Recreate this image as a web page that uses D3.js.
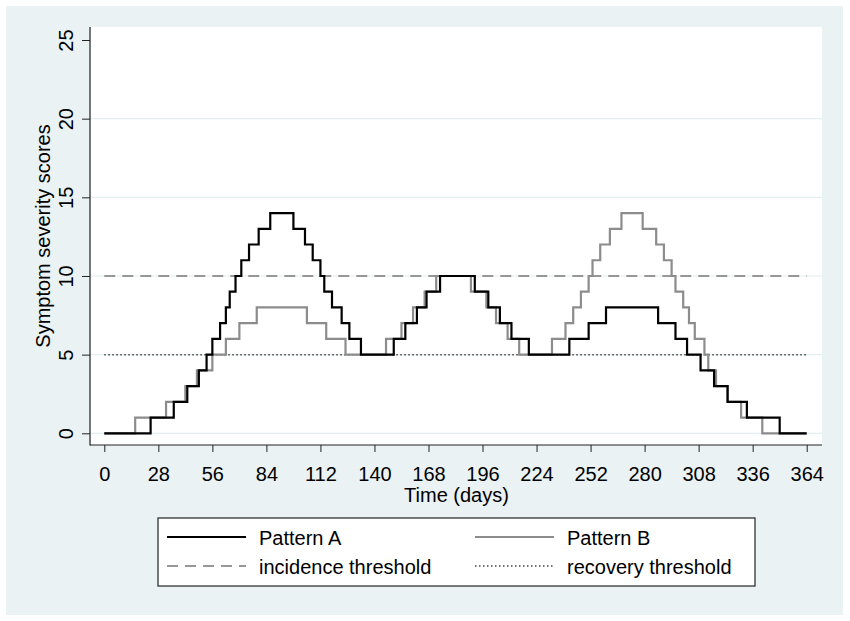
<!DOCTYPE html>
<html>
<head>
<meta charset="utf-8">
<script src="https://cdn.jsdelivr.net/npm/d3@7"></script>
<style>
  body { margin: 0; background: #fff; }
  svg { display: block; font-family: "Liberation Sans", Arial, sans-serif; }
</style>
</head>
<body>
<svg id="chart" width="850" height="621"></svg>
<script>
// Pattern A: day on which the score changes, and the new score
const daysA  = [0, 24, 36, 43, 49, 53, 56, 60, 63, 65, 68, 71, 75, 80, 86, 98, 104, 108, 112, 114, 118, 123, 127, 133,
                150, 156, 162, 167, 174, 192, 199, 205, 211, 220, 241, 251, 260, 287, 296, 302, 309, 316, 323, 333, 350, 364];
const scoreA = [0, 1, 2, 3, 4, 5, 6, 7, 8, 9, 10, 11, 12, 13, 14, 13, 12, 11, 10, 9, 8, 7, 6, 5,
                6, 7, 8, 9, 10, 9, 8, 7, 6, 5, 6, 7, 8, 7, 6, 5, 4, 3, 2, 1, 0, 0];
// Pattern B
const daysB  = [0, 16, 32, 42, 48, 56, 63, 70, 79, 105, 115, 125, 146, 154, 160, 166, 172, 190, 198, 203, 209, 215,
                232, 239, 243, 247, 251, 253, 257, 262, 268, 279, 286, 290, 294, 296, 300, 303, 306, 311, 313, 317, 323, 330, 341, 364];
const scoreB = [0, 1, 2, 3, 4, 5, 6, 7, 8, 7, 6, 5, 6, 7, 8, 9, 10, 9, 8, 7, 6, 5,
                6, 7, 8, 9, 10, 11, 12, 13, 14, 13, 12, 11, 10, 9, 8, 7, 6, 5, 4, 3, 2, 1, 0, 0];

const incidence = 10;
const recovery = 5;
const xTicks = [0, 28, 56, 84, 112, 140, 168, 196, 224, 252, 280, 308, 336, 364];
const yTicks = [0, 5, 10, 15, 20, 25];
const legendItems = ["Pattern A", "Pattern B", "incidence threshold", "recovery threshold"];

const svg = d3.select("#chart");

// фон как у Stata
svg.append("rect").attr("x", 6).attr("y", 6).attr("width", 837).attr("height", 609).attr("fill", "#eaf2f3");

const plot = { left: 91, right: 822, top: 27, bottom: 445 };
svg.append("rect")
    .attr("x", plot.left).attr("y", plot.top)
    .attr("width", plot.right - plot.left).attr("height", plot.bottom - plot.top)
    .attr("fill", "#fff");

const x = d3.scaleLinear().domain([0, 364]).range([104.3, 806.7]);
const y = d3.scaleLinear().domain([0, 25]).range([433.3, 40]);

// сетка (без линии на 25)
svg.append("g").selectAll("line")
    .data(yTicks.filter(d => d < 25))
    .enter().append("line")
    .attr("x1", plot.left).attr("x2", plot.right)
    .attr("y1", d => y(d)).attr("y2", d => y(d))
    .attr("stroke", "#e4edef").attr("stroke-width", 1.2);

// оси
const xAxis = svg.append("g")
    .attr("transform", "translate(0," + plot.bottom + ")")
    .call(d3.axisBottom(x).tickValues(xTicks).tickSize(7).tickSizeOuter(0));
xAxis.select(".domain").remove();
xAxis.selectAll("line").attr("stroke", "#222");
xAxis.selectAll("text").attr("y", 36).attr("dy", 0)
    .attr("font-size", 20).attr("fill", "#000")
    .attr("font-family", "Liberation Sans, Arial, sans-serif");

const yAxis = svg.append("g")
    .attr("transform", "translate(" + (plot.left - 1) + ",0)")
    .call(d3.axisLeft(y).tickValues(yTicks).tickSize(8).tickSizeOuter(0));
yAxis.select(".domain").remove();
yAxis.selectAll("line").attr("stroke", "#222");
yAxis.selectAll("text")
    .attr("x", 0).attr("y", 0).attr("dy", 0)
    .attr("text-anchor", "middle")
    .attr("transform", "translate(-17,0) rotate(-90)")
    .attr("font-size", 20).attr("fill", "#000")
    .attr("font-family", "Liberation Sans, Arial, sans-serif");

svg.append("line").attr("x1", plot.left - 1).attr("x2", plot.left - 1)
    .attr("y1", plot.top).attr("y2", plot.bottom + 0.5)
    .attr("stroke", "#222").attr("stroke-width", 1.2);
svg.append("line").attr("x1", plot.left - 1).attr("x2", plot.right)
    .attr("y1", plot.bottom).attr("y2", plot.bottom)
    .attr("stroke", "#222").attr("stroke-width", 1.2);

// подписи осей
svg.append("text")
    .attr("x", (plot.left + plot.right) / 2).attr("y", 502)
    .attr("text-anchor", "middle").attr("font-size", 20)
    .text("Time (days)");
svg.append("text")
    .attr("transform", "translate(50," + (plot.top + plot.bottom) / 2 + ") rotate(-90)")
    .attr("text-anchor", "middle").attr("font-size", 20)
    .text("Symptom severity scores");

// пороги
svg.append("line")
    .attr("x1", x(0)).attr("x2", x(364))
    .attr("y1", y(incidence)).attr("y2", y(incidence))
    .attr("stroke", "#979797").attr("stroke-width", 2)
    .attr("stroke-dasharray", "11,7");
svg.append("line")
    .attr("x1", x(0)).attr("x2", x(364))
    .attr("y1", y(recovery)).attr("y2", y(recovery))
    .attr("stroke", "#444").attr("stroke-width", 1.5)
    .attr("stroke-dasharray", "1.5,2.5");

// ступенчатые линии
const line = d3.line()
    .x(d => x(d[0]))
    .y(d => y(d[1]))
    .curve(d3.curveStepAfter);

const seriesB = daysB.map((d, i) => [d, scoreB[i]]);
const seriesA = daysA.map((d, i) => [d, scoreA[i]]);

svg.append("path").datum(seriesB)
    .attr("d", line).attr("fill", "none")
    .attr("stroke", "#8c8c8c").attr("stroke-width", 2.2);
svg.append("path").datum(seriesA)
    .attr("d", line).attr("fill", "none")
    .attr("stroke", "#000").attr("stroke-width", 2.2);

// легенда
const legend = svg.append("g");
legend.append("rect")
    .attr("x", 158).attr("y", 518).attr("width", 597).attr("height", 68)
    .attr("fill", "#fff").attr("stroke", "#222").attr("stroke-width", 1.2);

const legendStyle = [
    { col: 0, row: 0, stroke: "#000", width: 2.2, dash: null },
    { col: 1, row: 0, stroke: "#8c8c8c", width: 2.2, dash: null },
    { col: 0, row: 1, stroke: "#979797", width: 2, dash: "11,7" },
    { col: 1, row: 1, stroke: "#444", width: 1.5, dash: "1.5,2.5" }
];
const colX = [167, 475];
const rowY = [537, 566];

legendItems.forEach(function(name, i) {
    let s = legendStyle[i];
    legend.append("line")
        .attr("x1", colX[s.col]).attr("x2", colX[s.col] + 79)
        .attr("y1", rowY[s.row]).attr("y2", rowY[s.row])
        .attr("stroke", s.stroke).attr("stroke-width", s.width)
        .attr("stroke-dasharray", s.dash);
    legend.append("text")
        .attr("x", colX[s.col] + 92).attr("y", rowY[s.row] + 8)
        .attr("font-size", 20).attr("fill", "#000")
        .text(name);
});
</script>
</body>
</html>
